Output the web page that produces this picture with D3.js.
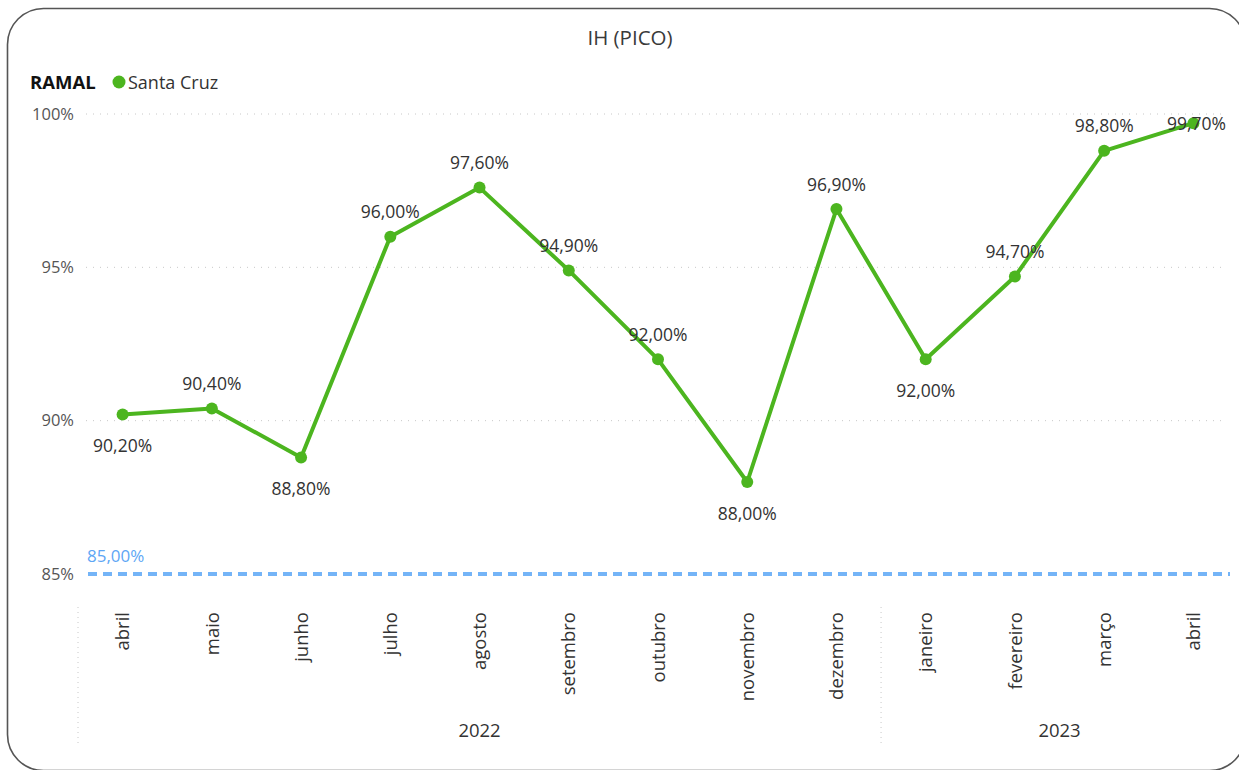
<!DOCTYPE html>
<html>
<head>
<meta charset="utf-8">
<script src="https://cdn.jsdelivr.net/npm/d3@7"></script>
<style>
  html, body { margin: 0; padding: 0; background: #fff; }
  svg { display: block; font-family: "Open Sans", "Noto Sans", sans-serif; }
</style>
</head>
<body>
<svg id="chart" width="1239" height="770"></svg>
<script>
// Monthly IH (peak) values for the Santa Cruz branch
const months = ["abril", "maio", "junho", "julho", "agosto", "setembro", "outubro",
                "novembro", "dezembro", "janeiro", "fevereiro", "março", "abril"];
const years = ["2022", "2022", "2022", "2022", "2022", "2022", "2022",
               "2022", "2022", "2023", "2023", "2023", "2023"];
const values = [90.2, 90.4, 88.8, 96.0, 97.6, 94.9, 92.0, 88.0, 96.9, 92.0, 94.7, 98.8, 99.7];
// Data label placement: 1 = above the point, -1 = below, 0 = beside (kept inside the plot)
const labelSide = [-1, 1, -1, 1, 1, 1, 1, -1, 1, -1, 1, 1, 0];
const yTicks = [85, 90, 95, 100];
const target = 85;
const seriesName = "Santa Cruz";
const legendTitle = "RAMAL";
const title = "IH (PICO)";

const svg = d3.select("#chart");
const green = "#4cb51f";
const textColor = "#333333";
const fontFam = "\"Open Sans\", \"Noto Sans\", sans-serif";
const fmt = v => d3.format(".2f")(v).replace(".", ",") + "%";

// Card frame with rounded corners
svg.append("rect")
  .attr("x", 7.5).attr("y", 8.5)
  .attr("width", 1238).attr("height", 762)
  .attr("rx", 36).attr("ry", 36)
  .attr("fill", "#fff").attr("stroke", "#555").attr("stroke-width", 1.6);

svg.append("text")
  .attr("x", 630).attr("y", 45)
  .attr("text-anchor", "middle")
  .attr("font-size", 20.5).attr("fill", "#3a3a3a")
  .text(title);

// Legend
svg.append("text")
  .attr("x", 30).attr("y", 88.5)
  .attr("font-size", 18.5).attr("font-weight", "bold").attr("fill", "#111")
  .text(legendTitle);
svg.append("circle").attr("cx", 119).attr("cy", 82).attr("r", 6.5).attr("fill", green);
svg.append("text")
  .attr("x", 128).attr("y", 88.5)
  .attr("font-size", 18).attr("fill", textColor)
  .text(seriesName);

const idx = d3.range(values.length);
const x = d3.scaleBand().domain(idx).range([78, 1238]);
const cx = i => x(i) + x.bandwidth() / 2;
const y = d3.scaleLinear().domain([85, 100]).range([574, 114]);

// Horizontal gridlines
svg.append("g")
  .selectAll("line")
  .data(yTicks.filter(t => t !== target))
  .join("line")
  .attr("x1", 86).attr("x2", 1226)
  .attr("y1", d => y(d)).attr("y2", d => y(d))
  .attr("stroke", "#c8c8c8").attr("stroke-width", 1)
  .attr("stroke-dasharray", "1,6");

// Y axis labels
const yAxis = d3.axisLeft(y).tickValues(yTicks).tickSize(0).tickPadding(0)
  .tickFormat(d => d + "%");
svg.append("g")
  .attr("transform", "translate(74,0)")
  .call(yAxis)
  .call(g => g.select(".domain").remove())
  .call(g => g.selectAll("text")
    .attr("font-size", 16.5).attr("fill", "#555")
    .attr("font-family", fontFam));

// Target line at 85%
svg.append("line")
  .attr("x1", 88).attr("x2", 1230)
  .attr("y1", y(target)).attr("y2", y(target))
  .attr("stroke", "#74b4f7").attr("stroke-width", 4)
  .attr("stroke-dasharray", "9,6");
svg.append("text")
  .attr("x", 87).attr("y", y(target) - 12)
  .attr("font-size", 17).attr("fill", "#5ea6f5")
  .text(fmt(target));

// X axis: month names rotated, grouped by year
const xAxis = d3.axisBottom(x).tickSize(0).tickFormat(i => months[i]);
svg.append("g")
  .attr("transform", "translate(0,612)")
  .call(xAxis)
  .call(g => g.select(".domain").remove())
  .call(g => g.selectAll("text")
    .attr("transform", "rotate(-90)")
    .attr("text-anchor", "end")
    .attr("dx", 0).attr("dy", "0.36em")
    .attr("x", 0).attr("y", 0)
    .attr("font-size", 18.5).attr("fill", textColor)
    .attr("font-family", fontFam));

// Year groups and separators
const yearGroups = d3.groups(idx, i => years[i]);
const separators = [x(0)].concat(yearGroups.slice(1).map(([, ids]) => x(ids[0])));
svg.append("g")
  .selectAll("line")
  .data(separators)
  .join("line")
  .attr("x1", d => d).attr("x2", d => d)
  .attr("y1", 607).attr("y2", 746)
  .attr("stroke", "#c8c8c8").attr("stroke-width", 1)
  .attr("stroke-dasharray", "1,4");
svg.append("g")
  .selectAll("text")
  .data(yearGroups)
  .join("text")
  .attr("x", ([, ids]) => (x(ids[0]) + x(ids[ids.length - 1]) + x.bandwidth()) / 2)
  .attr("y", 737)
  .attr("text-anchor", "middle")
  .attr("font-size", 18.5).attr("fill", textColor)
  .text(([yr]) => yr);

// Series line and markers
const line = d3.line().x(i => cx(i)).y(i => y(values[i]));
svg.append("path")
  .datum(idx)
  .attr("d", line)
  .attr("fill", "none")
  .attr("stroke", green).attr("stroke-width", 4)
  .attr("stroke-linejoin", "round");
svg.append("g")
  .selectAll("circle")
  .data(idx)
  .join("circle")
  .attr("cx", i => cx(i)).attr("cy", i => y(values[i]))
  .attr("r", 6).attr("fill", green);

// Data labels
const plotRight = 1226;
svg.append("g")
  .selectAll("text")
  .data(idx)
  .join("text")
  .attr("x", i => labelSide[i] === 0 ? plotRight : cx(i))
  .attr("y", i => y(values[i]) + (labelSide[i] > 0 ? -18.5 : labelSide[i] < 0 ? 37.5 : 7))
  .attr("text-anchor", i => labelSide[i] === 0 ? "end" : "middle")
  .attr("font-size", 17.5).attr("fill", textColor)
  .text(i => fmt(values[i]));
</script>
</body>
</html>
